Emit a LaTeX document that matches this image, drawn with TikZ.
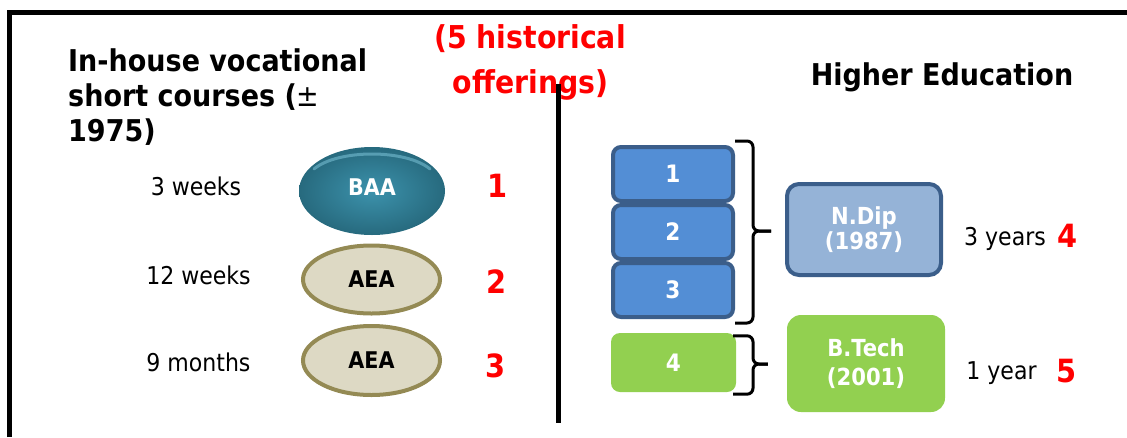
\documentclass[tikz,border=0pt]{standalone}
\usepackage{fontspec}
\setmainfont{DejaVu Sans Condensed}[BoldFont={DejaVu Sans Condensed Bold}]
\usetikzlibrary{shapes.geometric,calc}
\definecolor{boxblue}{HTML}{538ED5}
\definecolor{boxedge}{HTML}{3B5E8A}
\definecolor{ndipfill}{HTML}{95B3D7}
\definecolor{greenfill}{HTML}{92D050}
\definecolor{aeafill}{HTML}{DDD9C4}
\definecolor{aeaedge}{HTML}{948A54}
\definecolor{tealin}{HTML}{3C92AC}
\definecolor{tealout}{HTML}{276A7E}
\definecolor{tealhl}{HTML}{8ED6EA}
\definecolor{numred}{HTML}{FF0000}
\begin{document}
\begin{tikzpicture}[x=1pt,y=-1pt,
  titletext/.style={inner sep=0pt,font=\bfseries\fontsize{30}{36}\selectfont},
  redtitle/.style={inner sep=0pt,text=numred,font=\bfseries\fontsize{31.5}{36}\selectfont},
  label/.style={inner sep=0pt,anchor=base,font=\fontsize{24.5}{28}\selectfont},
  rednum/.style={inner sep=0pt,anchor=base,text=numred,font=\bfseries\fontsize{32}{36}\selectfont},
  baa/.style={ellipse,inner sep=0pt,minimum width=146pt,minimum height=88pt,shading=radial,inner color=tealin,outer color=tealout,text=white,font=\bfseries\fontsize{23}{26}\selectfont},
  aea/.style={ellipse,inner sep=0pt,minimum width=137pt,minimum height=68pt,fill=aeafill,draw=aeaedge,line width=4pt,font=\bfseries\fontsize{23}{26}\selectfont},
  bluebox/.style={rectangle,rounded corners=8pt,inner sep=0pt,minimum width=120pt,minimum height=54pt,fill=boxblue,draw=boxedge,line width=4pt,text=white,font=\bfseries\fontsize{24}{26}\selectfont},
  greenbox/.style={rectangle,rounded corners=9pt,inner sep=0pt,fill=greenfill,text=white,font=\bfseries\fontsize{24}{26}\selectfont},
  bigbox/.style={rectangle,inner sep=0pt,align=center,text=white,font=\bfseries\fontsize{23.5}{26}\selectfont},
  bracestyle/.style={draw=black,line width=3pt,rounded corners=6pt}
]
\useasboundingbox (0,0) rectangle (1127,437);

% frame
\draw[line width=5pt,line join=miter] (9.5,437) -- (9.5,12.5) -- (1127,12.5);

% left title
\node[titletext,anchor=base west] (t1) at (68,71) {In-house vocational};
\node[titletext,anchor=base west] (t2) at (68,106) {short courses (\textmd{±}};
\node[titletext,anchor=base west] (t3) at (68,141) {1975)};

% red title
\node[redtitle,anchor=base] (r1) at (530,48) {(5 historical};
\node[redtitle,anchor=base] (r2) at (530.5,93) {offerings)};

% right title
\node[titletext,anchor=base] (he) at (942,85) {Higher Education};

% divider
\draw[line width=5pt] (558.5,84) -- (558.5,423);

% left column
\node[label] (l1) at (196,195) {3 weeks};
\node[label] (l2) at (198.5,284) {12 weeks};
\node[label] (l3) at (198.5,371) {9 months};

\node[baa] (baa) at (372,191) {};
\draw[tealhl,line width=3pt,opacity=0.45,line cap=round] ($(baa.center)+(-58,-22)$) .. controls ($(baa.center)+(-34,-42)$) and ($(baa.center)+(34,-42)$) .. ($(baa.center)+(58,-22)$);
\node[inner sep=0pt,text=white,font=\bfseries\fontsize{23}{26}\selectfont] (baat) at (372,187) {BAA};
\node[aea] (aea1) at (371.5,279.5) {AEA};
\node[aea,minimum height=69pt] (aea2) at (371.5,360.5) {AEA};

\node[rednum] (n1) at (498,197) {1};
\node[rednum] (n2) at (496.7,293) {2};
\node[rednum] (n3) at (496,377) {3};

% right column
\node[bluebox] (b1) at (673,174) {1};
\node[bluebox] (b2) at (673,232) {2};
\node[bluebox] (b3) at (673,290) {3};
\node[greenbox,minimum width=125pt,minimum height=59pt] (b4) at (673.5,362.5) {4};

\node[bigbox,rounded corners=12pt,minimum width=154pt,minimum height=91pt,fill=ndipfill,draw=boxedge,line width=4pt,font=\bfseries\fontsize{23.5}{25}\selectfont] (ndip) at (864,229.5) {N.Dip\\(1987)};
\node[bigbox,rounded corners=14pt,minimum width=158pt,minimum height=97pt,fill=greenfill,font=\bfseries\fontsize{23.5}{29}\selectfont] (btech) at (866,363.5) {B.Tech\\(2001)};

% braces
\coordinate (br1top) at ($(b1.north east)+(0,-4)$);
\coordinate (br1bot) at ($(b3.south east)+(0,4)$);
\coordinate (br1mid) at (753,231);
\coordinate (br1tip) at ($(ndip.west)+(-14,1.5)$);
\draw[bracestyle] (br1top) -| (br1mid) -- (br1tip);
\draw[bracestyle] (br1tip) -- (br1mid) |- (br1bot);

\coordinate (br2top) at ($(b4.north east)+(-3,3)$);
\coordinate (br2bot) at ($(b4.south east)+(-3,2)$);
\coordinate (br2mid) at (753,364);
\coordinate (br2tip) at ($(btech.west)+(-19,0.5)$);
\draw[bracestyle] (br2top) -| (br2mid) -- (br2tip);
\draw[bracestyle] (br2tip) -- (br2mid) |- (br2bot);

\node[label] (y1) at (1005,245) {3 years};
\node[label] (y2) at (1001.5,379) {1 year};
\node[rednum] (n4) at (1068,247) {4};
\node[rednum] (n5) at (1066.7,382) {5};
\end{tikzpicture}
\end{document}
